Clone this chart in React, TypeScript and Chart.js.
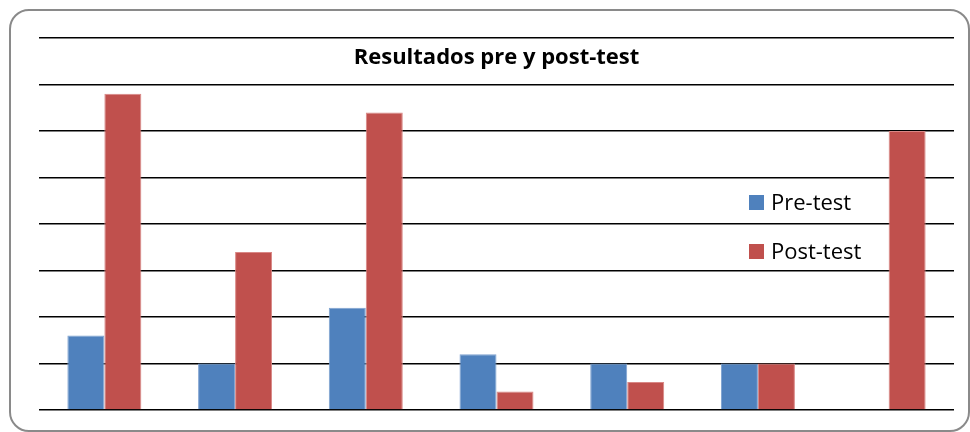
import React, { useEffect, useRef } from "react";
import { Chart, registerables } from "chart.js";

Chart.register(...registerables);

const categories = ["1", "2", "3", "4", "5", "6", "7"];
const preTest = [8, 5, 11, 6, 5, 5, 0];
const postTest = [34, 17, 32, 2, 3, 5, 30];
const seriesLabels = ["Pre-test", "Post-test"];
const chartTitle = "Resultados pre y post-test";
const yMax = 40;
const yStep = 5;

const overlayPlugin = {
  id: "overlay",
  afterDraw(chart: any) {
    const { ctx, chartArea } = chart;
    ctx.save();
    // Title overlay
    ctx.fillStyle = "#000";
    ctx.font = "bold 22px 'Open Sans', 'Liberation Sans', sans-serif";
    ctx.textAlign = "center";
    ctx.textBaseline = "middle";
    ctx.fillText(chartTitle, (chartArea.left + chartArea.right) / 2, chartArea.top + 20);
    // Legend overlay
    ctx.font = "22px 'Open Sans', 'Liberation Sans', sans-serif";
    ctx.textAlign = "left";
    const lx = chartArea.left + 710;
    const ys = [chartArea.top + 164.5, chartArea.top + 213.5];
    chart.data.datasets.forEach((ds: any, i: number) => {
      ctx.fillStyle = ds.backgroundColor;
      ctx.fillRect(lx, ys[i] - 7.5, 15, 15);
      ctx.fillStyle = "#000";
      ctx.fillText(ds.label, lx + 22, ys[i] + 1);
    });
    ctx.restore();
  },
};

export default function App() {
  const ref = useRef<HTMLCanvasElement>(null);
  useEffect(() => {
    const chart = new Chart(ref.current!, {
      type: "bar",
      data: {
        labels: categories,
        datasets: [
          {
            label: seriesLabels[0],
            data: preTest,
            backgroundColor: "#4F81BD",
            borderColor: "#7EA2D0",
            borderWidth: 1,
          },
          {
            label: seriesLabels[1],
            data: postTest,
            backgroundColor: "#C0504D",
            borderColor: "#D98785",
            borderWidth: 1,
          },
        ],
      },
      options: {
        animation: false,
        responsive: false,
        maintainAspectRatio: false,
        layout: { padding: { left: 39, right: 16, top: 38, bottom: 22 } },
        plugins: {
          legend: { display: false },
          title: { display: false },
          tooltip: { enabled: false },
        },
        datasets: {
          bar: { categoryPercentage: 0.566, barPercentage: 1 },
        },
        scales: {
          x: {
            grid: { display: false, drawTicks: false },
            border: { display: false },
            ticks: { display: false },
          },
          y: {
            min: 0,
            max: yMax,
            grid: { color: "#000", lineWidth: 1.5, drawTicks: false },
            border: { display: false },
            ticks: { display: false, stepSize: yStep },
          },
        },
      },
      plugins: [overlayPlugin],
    });
    return () => chart.destroy();
  }, []);

  return (
    <div style={{ position: "fixed", left: 0, top: 0, width: 970, height: 432, background: "#fff" }}>
      <canvas ref={ref} width={970} height={432} style={{ position: "absolute", left: 0, top: 0 }} />
      <div
        style={{
          position: "absolute",
          left: 9,
          top: 9,
          width: 961,
          height: 423,
          boxSizing: "border-box",
          border: "2px solid #8a8a8a",
          borderRadius: 20,
          pointerEvents: "none",
        }}
      />
    </div>
  );
}
